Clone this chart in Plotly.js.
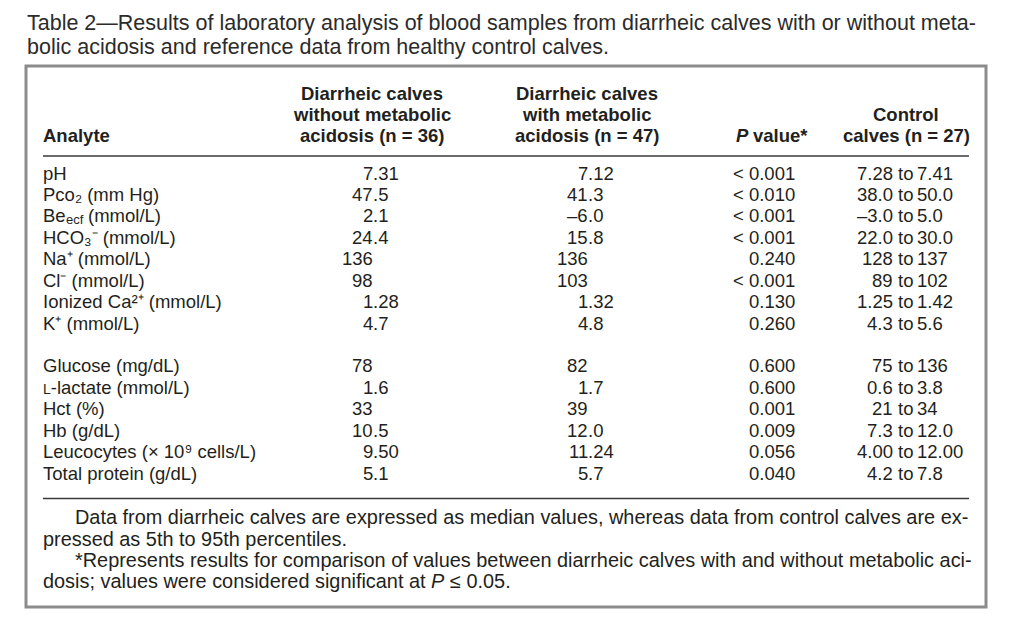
<!DOCTYPE html>
<html>
<head>
<meta charset="utf-8">
<script src="https://cdn.plot.ly/plotly-3.0.1.min.js"></script>
<style>html,body{margin:0;padding:0;background:#fff;}#chart{width:1024px;height:620px;}</style>
</head>
<body>
<div id="chart"></div>
<script>
const titleLines = [
  "Table 2—Results of laboratory analysis of blood samples from diarrheic calves with or without meta-",
  "bolic acidosis and reference data from healthy control calves."
];
const headerAnalyte = "Analyte";
const headerWithout = ["Diarrheic calves", "without metabolic", "acidosis (n = 36)"];
const headerWith = ["Diarrheic calves", "with metabolic", "acidosis (n = 47)"];
const headerPItalic = "P";
const headerPRest = "value*";
const headerControl = ["Control", "calves (n = 27)"];

// each analyte: [main text, subscript, rest]
const analytes = [
  ["pH", "", ""],
  ["Pco₂ (mm Hg)", "", ""],
  ["Be", "ecf", " (mmol/L)"],
  ["HCO₃⁻ (mmol/L)", "", ""],
  ["Na⁺ (mmol/L)", "", ""],
  ["Cl⁻ (mmol/L)", "", ""],
  ["Ionized Ca²⁺ (mmol/L)", "", ""],
  ["K⁺ (mmol/L)", "", ""],
  ["Glucose (mg/dL)", "", ""],
  ["<span style=\"font-size:14px\">L</span>-lactate (mmol/L)", "", ""],
  ["Hct (%)", "", ""],
  ["Hb (g/dL)", "", ""],
  ["Leucocytes (× 10⁹ cells/L)", "", ""],
  ["Total protein (g/dL)", "", ""]
];
const rowGroup = [0,0,0,0,0,0,0,0,1,1,1,1,1,1];
const withoutAcidosis = ["7.31","47.5","2.1","24.4","136","98","1.28","4.7","78","1.6","33","10.5","9.50","5.1"];
const withAcidosis    = ["7.12","41.3","–6.0","15.8","136","103","1.32","4.8","82","1.7","39","12.0","11.24","5.7"];
const pValues = ["< 0.001","< 0.010","< 0.001","< 0.001","0.240","< 0.001","0.130","0.260","0.600","0.600","0.001","0.009","0.056","0.040"];
const controlLow  = ["7.28","38.0","–3.0","22.0","128","89","1.25","4.3","75","0.6","21","7.3","4.00","4.2"];
const controlHigh = ["7.41","50.0","5.0","30.0","137","102","1.42","5.6","136","3.8","34","12.0","12.00","7.8"];

// footnote lines: [lead text, italic text, trailing text]
const footnotes = [
  {parts: ["Data from diarrheic calves are expressed as median values, whereas data from control calves are ex-", "", ""], indent: true},
  {parts: ["pressed as 5th to 95th percentiles.", "", ""], indent: false},
  {parts: ["*Represents results for comparison of values between diarrheic calves with and without metabolic aci-", "", ""], indent: true},
  {parts: ["dosis; values were considered significant at ", "P", "≤ 0.05."], indent: false}
];

// ---- Layout (pixel coordinates on a 1024x620 canvas) ----
const FONTNAME = "Liberation Sans";
const FONT = "Liberation Sans, Arial, sans-serif";
const INK = "#231f20";
const BODY = 18.5;
const SUB = 13;
const FOOT = 19.9;
const pos = {
  analyteX: 43, col1Dec: 373, col2Dec: 588, pRight: 795, ctrlTo: 905, ctrlGap: 12,
  rowY0: 173, rowDY: 21.43, groupGap: 1, subDrop: 4,
  headY: [93, 114, 135], ruleTop: 156, ruleBottom: 498.5, ruleX0: 43, ruleX1: 969,
  titleX: 27, titleY: [22.6, 46.7], footY: [517, 538.5, 559.5, 580.5], footX: 43, footIndent: 75
};

const ctx = document.createElement("canvas").getContext("2d");
function measure(text, size, style) {
  ctx.font = (style || "normal") + " normal " + size + "px \"" + FONTNAME + "\"";
  return ctx.measureText(text).width;
}

const ann = [];
function txt(x, y, text, xanchor, size, fontExtra) {
  ann.push({
    x: x, y: y, xref: "x", yref: "y", text: text, showarrow: false,
    xanchor: xanchor, yanchor: "middle", borderpad: 0, borderwidth: 0,
    font: Object.assign({family: FONT, size: size || BODY, color: INK}, fontExtra || {})
  });
}
const B = {weight: "bold"};

// Title
titleLines.forEach((t, i) => txt(pos.titleX, pos.titleY[i], t, "left", 21.5, {color: "#2b2b2b"}));

// Header
txt(pos.analyteX, pos.headY[2], headerAnalyte, "left", BODY, B);
headerWithout.forEach((t, i) => txt(372, pos.headY[i], t, "center", BODY, B));
headerWith.forEach((t, i) => txt(587, pos.headY[i], t, "center", BODY, B));
txt(808, pos.headY[2], headerPRest, "right", BODY, B);
txt(749, pos.headY[2], headerPItalic, "right", BODY, {weight: "bold", style: "italic"});
headerControl.forEach((t, i) => txt(906, pos.headY[i + 1], t, "center", BODY, B));

// Body rows
function rowY(i) { return pos.rowY0 + (i + rowGroup[i] * pos.groupGap) * pos.rowDY; }
function decimal(x, y, s) {
  const k = s.indexOf(".");
  const ip = k < 0 ? s : s.slice(0, k);
  const fp = k < 0 ? "" : s.slice(k);
  txt(x, y, ip, "right");
  if (fp) txt(x, y, fp, "left");
}
analytes.forEach((a, i) => {
  const y = rowY(i);
  txt(pos.analyteX, y, a[0], "left");
  if (a[1]) {
    const xs = pos.analyteX + measure(a[0], BODY);
    txt(xs, y + pos.subDrop, a[1], "left", SUB);
    const xr = xs + measure(a[1], SUB) + measure(" ", BODY);
    txt(xr, y, a[2].trim(), "left");
  }
  decimal(pos.col1Dec, y, withoutAcidosis[i]);
  decimal(pos.col2Dec, y, withAcidosis[i]);
  txt(pos.pRight, y, pValues[i], "right");
  txt(pos.ctrlTo - pos.ctrlGap, y, controlLow[i], "right");
  txt(pos.ctrlTo, y, "to", "center");
  txt(pos.ctrlTo + pos.ctrlGap, y, controlHigh[i], "left");
});

// Footnotes
footnotes.forEach((f, i) => {
  const x0 = f.indent ? pos.footIndent : pos.footX;
  const y = pos.footY[i];
  txt(x0, y, f.parts[0], "left", FOOT);
  if (f.parts[1]) {
    const xi = x0 + measure(f.parts[0], FOOT);
    txt(xi, y, f.parts[1], "left", FOOT, {style: "italic"});
    const xr = xi + measure(f.parts[1], FOOT, "italic") + measure(" ", FOOT);
    txt(xr, y, f.parts[2], "left", FOOT);
  }
});

const shapes = [
  {type: "rect", xref: "x", yref: "y", x0: 26, x1: 986, y0: 66, y1: 607, line: {color: "#8c8c8c", width: 3}},
  {type: "line", xref: "x", yref: "y", x0: pos.ruleX0, x1: pos.ruleX1, y0: pos.ruleTop, y1: pos.ruleTop, line: {color: "#3a3a3a", width: 1.5}},
  {type: "line", xref: "x", yref: "y", x0: pos.ruleX0, x1: pos.ruleX1, y0: pos.ruleBottom, y1: pos.ruleBottom, line: {color: "#3a3a3a", width: 1.5}}
];

const layout = {
  width: 1024, height: 620,
  margin: {l: 0, r: 0, t: 0, b: 0, pad: 0},
  paper_bgcolor: "#ffffff", plot_bgcolor: "#ffffff",
  showlegend: false,
  xaxis: {range: [0, 1024], visible: false, fixedrange: true},
  yaxis: {range: [620, 0], visible: false, fixedrange: true},
  annotations: ann,
  shapes: shapes
};
const traces = [{x: [0, 1024], y: [0, 620], mode: "markers", marker: {opacity: 0}, hoverinfo: "skip"}];
Plotly.newPlot("chart", traces, layout, {staticPlot: true, displayModeBar: false});
</script>
</body>
</html>
